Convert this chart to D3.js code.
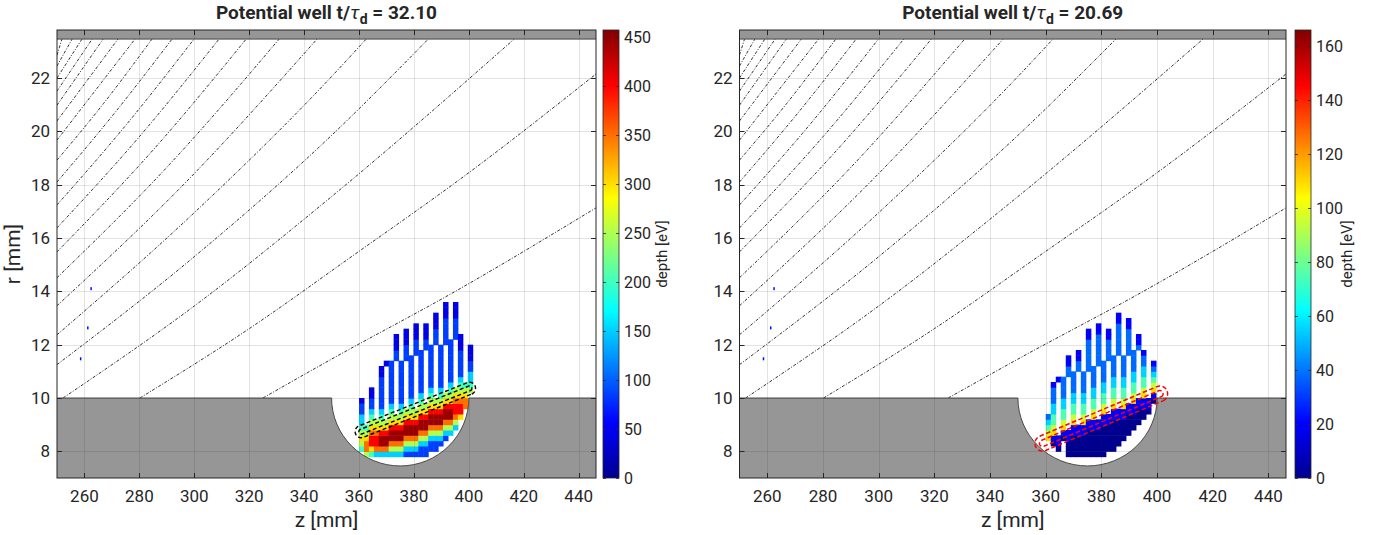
<!DOCTYPE html>
<html><head><meta charset="utf-8">
<script src="https://cdn.jsdelivr.net/npm/d3@7"></script>
<style>
body{margin:0;background:#fff}
svg{display:block}
text{font-family:Roboto,"Liberation Sans",sans-serif;fill:#262626}
</style>
</head><body>
<svg id="c" width="1379" height="535"></svg>
<script>
// ---------------- data ----------------
const zTicks = [260,280,300,320,340,360,380,400,420,440];
const rTicks = [8,10,12,14,16,18,20,22];
const zDomain = [250,446.3];
const rDomain = [7,23.8];
const wallTopR = 10, wallBottomR = 7, topWallR = 23.46;
const wellZ = [350,400], wellBottomR = 7.45;
const gridZ0 = 360, gridDz = 1.8, gridR0 = 7.4, gridDr = 0.2;

// depth level code per cell, column-major (z columns), rows from r=7.4 upward; '.' = no data
const leftCols = [
"...4565433221",
"..577654",
"..4688765432211",
"..3788765",
"..37998654322222211",
"..3799865..........1",
"..357998654322222222",
"..35799865..........22111",
"..357998654322222222",
"..235799865.........222111",
"..2357998654322222222",
"..235799865..........222111",
"..22357998654322222222",
"..2235799865..........22111",
"...22357998654322222222",
"...2235799865..........222111",
"....2357998654322222222",
".....235799865.........22222111",
"......357998654322222222",
".......35788765.........2222111",
".........6887654322222111",
"...........77654",
"..............543322111"
];
const rightCols = [
".....65432",
"....016544332221",
"...011..........1",
".....016544332222",
"..00011..........2211",
"..0000116544332222",
"..000011..........2211",
"..0000116544332222",
"..0000011.........22222211",
"..00000116544332222",
"..0000011..........22222211",
"..000000116544332222",
"...0000011..........222211",
"...000000116544332222",
"....0000011..........22222211",
".....0000116544332222",
"......000011.........2222211",
".......000116544332222",
"........00011.........211",
".........0011654433221",
"..........011",
"............01654321",
""
];
// depth [eV] for each level code 0..9
const leftLevels = [0,45,85,150,200,250,300,350,400,445];
const rightLevels = [0,20,38,55,75,95,110,130,150,165];
const leftCMax = 457, rightCMax = 166;
const leftCTicks = [0,50,100,150,200,250,300,350,400,450];
const rightCTicks = [0,20,40,60,80,100,120,140,160];
const specks = [[262.4,14.1],[261.2,12.63],[258.6,11.47]];

// field lines [z, r]
const fieldLines = [
 [[250,22.86],[251.8,23.46]],
 [[250,22.45],[255.5,23.46]],
 [[250,22.0],[259.1,23.46]],
 [[250,21.51],[262.8,23.46]],
 [[250,20.98],[266.8,23.46]],
 [[250,20.39],[272.2,23.46]],
 [[250,19.67],[278.4,23.46]],
 [[250,18.92],[267,21.05],[284.6,23.46]],
 [[250,18.10],[271,20.69],[291.9,23.46]],
 [[250,17.24],[275,20.22],[299.9,23.46]],
 [[250,16.38],[280,19.8],[309.0,23.46]],
 [[250,15.48],[285,19.3],[318.9,23.46]],
 [[250,14.51],[290,18.65],[330.9,23.46]],
 [[250,13.46],[297,18.1],[344.7,23.46]],
 [[250,12.37],[300,16.95],[349.5,22.0],[362.6,23.46]],
 [[250,11.25],[300,15.3],[349.5,19.8],[385.2,23.46]],
 [[252.2,10.0],[300,13.45],[349.5,17.51],[416.5,23.46]],
 [[280.2,10.0],[320,12.6],[356.7,15.26],[400,18.45],[446.3,22.15]],
 [[325,10.0],[349.5,11.43],[396.1,14.06],[446.3,17.13]]
];
// separatrix loops: centreline ends [z,r] and half widths in r (mm)
const leftLoopEnds = [[360.8,8.74],[400.2,10.36]];
const leftLoopHalf = [0.23,0.09];
const rightLoopEnds = [[358.9,8.3],[401.0,10.16]];
const rightLoopHalf = [0.29,0.12];

// ---------------- drawing ----------------
const svg = d3.select('#c');
const defs = svg.append('defs');
const jetStops = [0,0.125,0.375,0.625,0.875,1];
const jetCols = ['#00008f','#0000ff','#00ffff','#ffff00','#ff0000','#800000'];
const jet = d3.scaleLinear().domain(jetStops).range(jetCols).clamp(true);
const grad = defs.append('linearGradient').attr('id','jetg').attr('x1',0).attr('y1',1).attr('x2',0).attr('y2',0);
jetStops.forEach((s,i)=>grad.append('stop').attr('offset',s).attr('stop-color',jetCols[i]));
const GRAY = '#969696';

function capsule(xs, ys, ends, half){
  const p1=[xs(ends[0][0]),ys(ends[0][1])], p2=[xs(ends[1][0]),ys(ends[1][1])];
  const R = Math.abs(ys(0)-ys(half));
  const dx=p2[0]-p1[0], dy=p2[1]-p1[1], L=Math.hypot(dx,dy);
  const u=[dx/L,dy/L], n=[-u[1],u[0]];
  const pts=[];
  for(let i=0;i<=16;i++){const t=Math.PI*i/16;pts.push([p2[0]+R*(n[0]*Math.cos(t)+u[0]*Math.sin(t)),p2[1]+R*(n[1]*Math.cos(t)+u[1]*Math.sin(t))]);}
  for(let i=0;i<=16;i++){const t=Math.PI*i/16;pts.push([p1[0]+R*(-n[0]*Math.cos(t)-u[0]*Math.sin(t)),p1[1]+R*(-n[1]*Math.cos(t)-u[1]*Math.sin(t))]);}
  return 'M'+pts.map(p=>p[0].toFixed(2)+','+p[1].toFixed(2)).join('L')+'Z';
}

function panel(o){
  const xs=d3.scaleLinear().domain(zDomain).range([o.x0,o.x1]);
  const ys=d3.scaleLinear().domain(rDomain).range([o.y1,o.y0]);
  const g=svg.append('g');
  const cid='clip'+o.id;
  defs.append('clipPath').attr('id',cid).append('rect').attr('x',o.x0).attr('y',o.y0).attr('width',o.x1-o.x0).attr('height',o.y1-o.y0);
  const lid='lclip'+o.id;
  defs.append('clipPath').attr('id',lid).append('rect').attr('x',o.x0).attr('y',ys(topWallR)).attr('width',o.x1-o.x0).attr('height',ys(wallTopR)-ys(topWallR)+1);
  const plot=g.append('g').attr('clip-path',`url(#${cid})`);
  plot.append('rect').attr('x',o.x0).attr('y',o.y0).attr('width',o.x1-o.x0).attr('height',o.y1-o.y0).attr('fill','#fff');

  // heatmap cells
  const cells=[];
  o.cols.forEach((s,k)=>{for(let j=0;j<s.length;j++){const c=s[j];if(c!=='.')cells.push({k,j,v:o.levels[+c]});}});
  plot.append('g').selectAll('rect').data(cells).join('rect')
    .attr('x',d=>xs(gridZ0+d.k*gridDz))
    .attr('width',d=>xs(gridZ0+(d.k+1)*gridDz)-xs(gridZ0+d.k*gridDz)+0.5)
    .attr('y',d=>ys(gridR0+(d.j+1)*gridDr))
    .attr('height',d=>ys(gridR0+d.j*gridDr)-ys(gridR0+(d.j+1)*gridDr)+0.5)
    .attr('fill',d=>jet(d.v/o.cMax));
  plot.append('g').selectAll('rect').data(specks).join('rect')
    .attr('x',d=>xs(d[0])-0.7).attr('y',d=>ys(d[1])-1.5).attr('width',1.5).attr('height',3)
    .attr('fill',jet(0.14));

  // field lines
  const line=d3.line().x(d=>xs(d[0])).y(d=>ys(d[1])).curve(d3.curveMonotoneX);
  plot.append('g').attr('clip-path',`url(#${lid})`).selectAll('path').data(fieldLines).join('path')
    .attr('d',line).attr('fill','none').attr('stroke','#1a1a1a').attr('stroke-width',0.9)
    .attr('stroke-dasharray','3,1.6,1,1.6');

  // walls
  const rx=xs(wellZ[1])-xs((wellZ[0]+wellZ[1])/2), ry=ys(wellBottomR)-ys(wallTopR);
  const wallPath=`M${xs(zDomain[0])},${ys(wallBottomR)}L${xs(zDomain[0])},${ys(wallTopR)}L${xs(wellZ[0])},${ys(wallTopR)}A${rx},${ry} 0 0 0 ${xs(wellZ[1])},${ys(wallTopR)}L${xs(zDomain[1])},${ys(wallTopR)}L${xs(zDomain[1])},${ys(wallBottomR)}Z`;
  plot.append('path').attr('d',wallPath).attr('fill',GRAY);
  const edgePath=`M${xs(zDomain[0])},${ys(wallTopR)}L${xs(wellZ[0])},${ys(wallTopR)}A${rx},${ry} 0 0 0 ${xs(wellZ[1])},${ys(wallTopR)}L${xs(zDomain[1])},${ys(wallTopR)}`;
  plot.append('path').attr('d',edgePath).attr('fill','none').attr('stroke','#4a4a4a').attr('stroke-width',1);
  plot.append('rect').attr('x',o.x0).attr('y',o.y0).attr('width',o.x1-o.x0).attr('height',ys(topWallR)-o.y0).attr('fill',GRAY);
  plot.append('line').attr('x1',o.x0).attr('x2',o.x1).attr('y1',ys(topWallR)).attr('y2',ys(topWallR)).attr('stroke','#4a4a4a').attr('stroke-width',1);

  // loops
  o.loopHalf.forEach(h=>{
    plot.append('path').attr('d',capsule(xs,ys,o.loopEnds,h)).attr('fill','none')
      .attr('stroke',o.loopColor).attr('stroke-width',o.loopW).attr('stroke-dasharray',o.loopDash);
  });

  // grid
  const grid=g.append('g').attr('stroke','#262626').attr('stroke-opacity',0.13).attr('stroke-width',1);
  zTicks.forEach(t=>grid.append('line').attr('x1',Math.round(xs(t))+0.5).attr('x2',Math.round(xs(t))+0.5).attr('y1',o.y0).attr('y2',o.y1));
  rTicks.forEach(t=>grid.append('line').attr('y1',Math.round(ys(t))+0.5).attr('y2',Math.round(ys(t))+0.5).attr('x1',o.x0).attr('x2',o.x1));

  // axes box and ticks
  const ax=g.append('g').attr('stroke','#262626').attr('stroke-width',1);
  ax.append('rect').attr('x',o.x0).attr('y',o.y0).attr('width',o.x1-o.x0).attr('height',o.y1-o.y0).attr('fill','none');
  zTicks.forEach(t=>{const x=Math.round(xs(t))+0.5;
    ax.append('line').attr('x1',x).attr('x2',x).attr('y1',o.y1).attr('y2',o.y1-5);
    ax.append('line').attr('x1',x).attr('x2',x).attr('y1',o.y0).attr('y2',o.y0+5);});
  rTicks.forEach(t=>{const y=Math.round(ys(t))+0.5;
    ax.append('line').attr('y1',y).attr('y2',y).attr('x1',o.x0).attr('x2',o.x0+5);
    ax.append('line').attr('y1',y).attr('y2',y).attr('x1',o.x1).attr('x2',o.x1-5);});
  g.append('g').selectAll('text').data(zTicks).join('text')
    .attr('x',d=>xs(d)).attr('y',o.y1+24).attr('text-anchor','middle').attr('font-size',17).text(d=>d);
  g.append('g').selectAll('text').data(rTicks).join('text')
    .attr('x',o.x0-7).attr('y',d=>ys(d)+6).attr('text-anchor','end').attr('font-size',17).text(d=>d);
  g.append('text').attr('x',(o.x0+o.x1)/2).attr('y',527).attr('text-anchor','middle').attr('font-size',21).text('z [mm]');
  if(o.ylabel) g.append('text').attr('transform',`translate(${o.x0-37},${(o.y0+o.y1)/2}) rotate(-90)`).attr('text-anchor','middle').attr('font-size',21).text('r [mm]');

  // title
  const tt=g.append('text').attr('x',(o.x0+o.x1)/2).attr('y',19).attr('text-anchor','middle').attr('font-size',19).attr('font-weight','bold');
  tt.append('tspan').text('Potential well t/');
  tt.append('tspan').attr('font-style','italic').attr('font-weight','normal').text('τ');
  tt.append('tspan').attr('font-size',14).attr('dy',5).text('d');
  tt.append('tspan').attr('dy',-5).text(' = '+o.time);

  // colorbar
  const cs=d3.scaleLinear().domain([0,o.cMax]).range([o.y1,o.y0]);
  const cb=g.append('g');
  cb.append('rect').attr('x',o.cbX).attr('y',o.y0).attr('width',16).attr('height',o.y1-o.y0).attr('fill','url(#jetg)').attr('stroke','#262626').attr('stroke-width',0.8);
  o.cTicks.forEach(t=>{const y=Math.round(cs(t))+0.5;
    cb.append('line').attr('x1',o.cbX+16).attr('x2',o.cbX+13).attr('y1',y).attr('y2',y).attr('stroke','#262626').attr('stroke-width',0.8);
    cb.append('line').attr('x1',o.cbX).attr('x2',o.cbX+3).attr('y1',y).attr('y2',y).attr('stroke','#262626').attr('stroke-width',0.8);
    cb.append('text').attr('x',o.cbX+21).attr('y',cs(t)+6).attr('font-size',16).text(t);});
  cb.append('text').attr('transform',`translate(${o.cbLabelX},${(o.y0+o.y1)/2}) rotate(-90)`).attr('text-anchor','middle').attr('dominant-baseline','central').attr('font-size',15).text('depth [eV]');
}

panel({id:'L',x0:57,x1:596,y0:30,y1:478,cols:leftCols,levels:leftLevels,cMax:leftCMax,cTicks:leftCTicks,
  time:'32.10',cbX:603,cbLabelX:662,ylabel:true,loopEnds:leftLoopEnds,loopHalf:leftLoopHalf,loopColor:'#000',loopW:1.4,loopDash:'4,2.5'});
panel({id:'R',x0:739.5,x1:1286,y0:30,y1:478,cols:rightCols,levels:rightLevels,cMax:rightCMax,cTicks:rightCTicks,
  time:'20.69',cbX:1295,cbLabelX:1347,ylabel:false,loopEnds:rightLoopEnds,loopHalf:rightLoopHalf,loopColor:'#ff0000',loopW:1.5,loopDash:'4.5,2.5'});
</script>
</body></html>
